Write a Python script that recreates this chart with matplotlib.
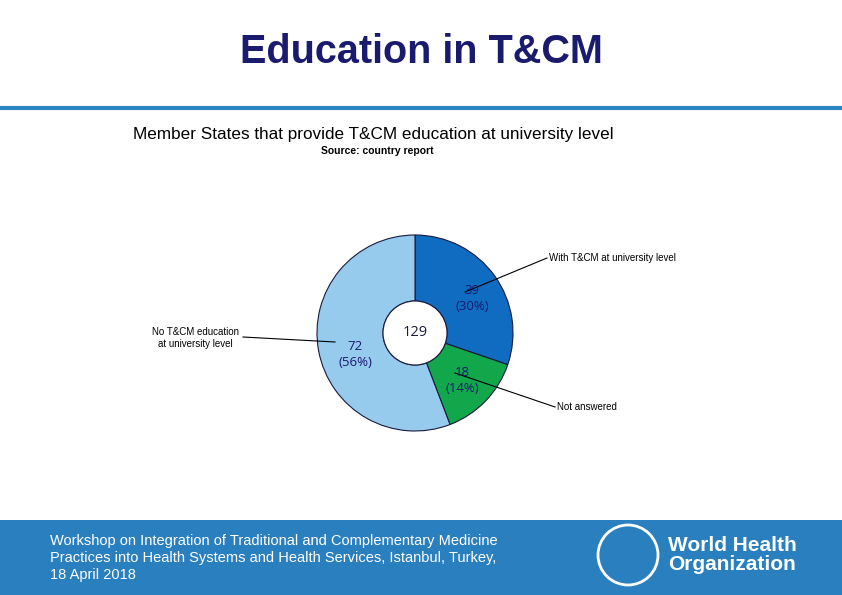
import matplotlib
matplotlib.use("Agg")
import matplotlib.pyplot as plt
from matplotlib.patches import Rectangle, Circle

categories = ["With T&CM at university level", "Not answered", "No T&CM education\nat university level"]
values = [39, 18, 72]
percents = ["30%", "14%", "56%"]
colors = ["#0f6cc0", "#12a74a", "#97cbed"]
total = 129

W, H = 842, 595
fig = plt.figure(figsize=(W/100, H/100), dpi=100)
ax = fig.add_axes([0, 0, 1, 1])
Y = lambda y: H - y

cx, cy, r = 415, Y(333), 98
ax.pie(values, colors=colors, startangle=90, counterclock=False, center=(cx, cy), radius=r,
       wedgeprops=dict(width=r-32, edgecolor="#1a1a3e", linewidth=0.8), frame=True)
ax.set_xlim(0, W); ax.set_ylim(0, H); ax.set_aspect("equal"); ax.axis("off")

ax.text(421, Y(52), "Education in T&CM", ha="center", va="center", fontsize=28.5, fontweight="bold", color="#1a1a6e", family="Liberation Sans")
ax.plot([0, W], [Y(108), Y(108)], color="#2e86c1", lw=3)
ax.text(373, Y(135), "Member States that provide T&CM education at university level", ha="center", va="center", fontsize=12.3, family="Liberation Sans")
ax.text(377, Y(151), "Source: country report", ha="center", va="center", fontsize=7.5, fontweight="bold", family="Liberation Sans")

ax.add_patch(Circle((cx, cy), 32, facecolor="white", edgecolor="#1a1a3e", lw=0.8))
ax.text(cx, cy, str(total), ha="center", va="center", fontsize=10.5, color="#1a1a3e", family="Open Sans")

lab_pos = [(472, 298), (462, 381), (355, 355)]
for (x, y), v, p in zip(lab_pos, values, percents):
    ax.text(x, Y(y), f"{v}\n({p})", ha="center", va="center", fontsize=9.5, color="#1a1a6e", family="Open Sans", linespacing=1.3)

ax.plot([465, 547], [Y(292), Y(258)], color="black", lw=0.8)
ax.text(549, Y(258), categories[0], ha="left", va="center", fontsize=7, family="Liberation Sans")
ax.plot([455, 555], [Y(373), Y(407)], color="black", lw=0.8)
ax.text(557, Y(407), categories[1], ha="left", va="center", fontsize=7, family="Liberation Sans")
ax.plot([243, 335], [Y(337), Y(342)], color="black", lw=0.8)
ax.text(195, Y(338), categories[2], ha="center", va="center", fontsize=7, family="Liberation Sans", linespacing=1.2)

ax.add_patch(Rectangle((0, 0), W, H-520, facecolor="#2a7fbf", edgecolor="none"))
ax.text(50, Y(558), "Workshop on Integration of Traditional and Complementary Medicine\nPractices into Health Systems and Health Services, Istanbul, Turkey,\n18 April 2018",
        ha="left", va="center", fontsize=10.5, color="white", family="Liberation Sans", linespacing=1.3)
ax.add_patch(Circle((628, Y(555)), 30, facecolor="none", edgecolor="white", lw=2))
ax.text(668, Y(555), "World Health\nOrganization", ha="left", va="center", fontsize=15, color="white", fontweight="bold", family="Liberation Sans", linespacing=1.0)

fig.savefig("out.png", dpi=100)
